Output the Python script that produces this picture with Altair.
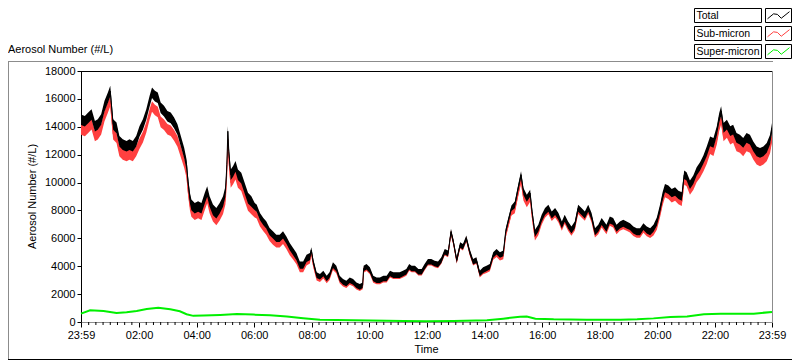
import json
import altair as alt
import pandas as pd

# ---------------- data ----------------
# minutes after 23:59 (start of record)
T = [
    0, 8, 15, 22, 29, 35, 42, 49, 56, 61,
    67, 74, 80, 87, 95, 101, 108, 115, 122, 129,
    136, 143, 148, 154, 160, 166, 173, 180, 187, 194,
    201, 208, 215, 220, 223, 227, 230, 237, 244, 251,
    258, 263, 268, 275, 282, 289, 296, 301, 304, 306,
    308, 312, 317, 322, 327, 334, 341, 348, 355, 362,
    366, 373, 380, 386, 393, 400, 407, 414, 421, 428,
    435, 442, 449, 456, 463, 470, 477, 480, 484, 491,
    498, 505, 512, 518, 525, 532, 539, 546, 553, 560,
    567, 574, 581, 587, 589, 595, 602, 609, 616, 623,
    630, 637, 644, 651, 657, 664, 671, 678, 684, 689,
    696, 703, 710, 716, 723, 730, 737, 744, 751, 758,
    765, 771, 776, 783, 790, 796, 803, 810, 817, 824,
    831, 838, 845, 852, 859, 866, 873, 880, 885, 890,
    897, 904, 911, 917, 922, 929, 936, 940, 946, 953,
    960, 967, 974, 981, 988, 995, 1002, 1008, 1015, 1022,
    1029, 1036, 1043, 1050, 1057, 1064, 1071, 1078, 1085, 1095,
    1102, 1109, 1116, 1123, 1130, 1137, 1144, 1151, 1158, 1165,
    1172, 1179, 1186, 1193, 1200, 1207, 1212, 1217, 1224, 1231,
    1238, 1245, 1252, 1257, 1262, 1269, 1276, 1283, 1290, 1297,
    1304, 1311, 1318, 1325, 1330, 1334, 1339, 1346, 1353, 1359,
    1366, 1373, 1380, 1387, 1394, 1401, 1408, 1415, 1422, 1429,
    1436, 1440]

TOTAL = [
    14500, 14400, 14640, 14880, 14040, 14160, 14520, 15480, 16080, 16560,
    14160, 13920, 12960, 12720, 12600, 12720, 12600, 12960, 13680, 14160,
    14880, 15840, 16440, 16200, 16080, 15360, 15120, 14760, 14640, 14280,
    13800, 12960, 12120, 11280, 10080, 8880, 8400, 8160, 8280, 8160,
    8880, 9360, 8640, 8040, 7800, 8160, 8640, 9360, 11280, 13680,
    12240, 10560, 10800, 11160, 10560, 10320, 9600, 8880, 8640, 8280,
    8160, 7560, 7200, 6960, 6480, 6240, 6000, 6000, 6240, 5880,
    5400, 5040, 4680, 4080, 4080, 4560, 4680, 5160, 4320, 3360,
    3240, 3480, 3120, 3360, 4080, 3840, 3120, 2880, 2760, 3000,
    2880, 2640, 2520, 2640, 3840, 3960, 3720, 3120, 3000, 3000,
    3120, 3120, 3480, 3360, 3360, 3360, 3480, 3600, 3960, 3840,
    3840, 3600, 3600, 3960, 4320, 4320, 4200, 4130, 4440, 5040,
    4920, 6480, 5760, 4440, 5520, 5400, 6000, 5040, 4320, 4440,
    3480, 3720, 3840, 3960, 4800, 5040, 4800, 4920, 6480, 7200,
    8160, 8400, 9600, 10560, 9360, 8880, 9240, 7920, 6360, 6720,
    7440, 7920, 8160, 7680, 7920, 7560, 6960, 7440, 6960, 6600,
    6960, 8160, 7920, 7680, 8160, 7560, 6480, 6720, 7200, 6720,
    7320, 7200, 6720, 6960, 7080, 6960, 6840, 6600, 6480, 6480,
    6840, 6600, 6480, 6720, 7200, 8160, 9000, 9600, 9480, 9240,
    9360, 9120, 9000, 10560, 10440, 9840, 10200, 10800, 11160, 11640,
    12240, 12960, 12840, 13680, 14640, 15120, 13920, 14160, 13680, 13800,
    13200, 13080, 12840, 13200, 13080, 12600, 12240, 12120, 12240, 12480,
    13080, 13920]

SUB = [
    13800, 13700, 13940, 14180, 13340, 13460, 13820, 14780, 15380, 15860,
    13460, 13220, 12260, 12020, 11900, 12020, 11900, 12260, 12800, 13260,
    13950, 14900, 15450, 15200, 15060, 14350, 14150, 13820, 13720, 13380,
    12950, 12200, 11450, 10700, 9500, 8400, 7920, 7700, 7820, 7700,
    8420, 8900, 8180, 7580, 7320, 7650, 8130, 8830, 10750, 13100,
    11700, 10000, 10250, 10600, 10000, 9770, 9050, 8350, 8110, 7750,
    7690, 7100, 6760, 6520, 6060, 5800, 5600, 5600, 5850, 5500,
    5050, 4740, 4400, 3820, 3830, 4320, 4450, 4950, 4120, 3180,
    3070, 3320, 2970, 3210, 3930, 3690, 2980, 2750, 2630, 2880,
    2760, 2530, 2420, 2540, 3740, 3860, 3620, 3020, 2910, 2910,
    3030, 3030, 3390, 3280, 3280, 3280, 3400, 3520, 3880, 3770,
    3770, 3530, 3530, 3890, 4250, 4250, 4130, 4060, 4370, 4970,
    4850, 6400, 5690, 4370, 5450, 5330, 5930, 4970, 4250, 4370,
    3400, 3620, 3720, 3840, 4660, 4870, 4610, 4700, 6240, 6900,
    7830, 8050, 9230, 10170, 8970, 8480, 8880, 7620, 6100, 6480,
    7230, 7720, 7970, 7500, 7740, 7380, 6790, 7270, 6790, 6430,
    6790, 7990, 7750, 7510, 7990, 7390, 6310, 6550, 7030, 6550,
    7150, 7030, 6550, 6790, 6910, 6790, 6670, 6420, 6290, 6290,
    6650, 6400, 6270, 6460, 6920, 7850, 8660, 9250, 9120, 8870,
    8990, 8740, 8620, 10160, 10030, 9420, 9760, 10330, 10650, 11100,
    11680, 12390, 12260, 13080, 14040, 14510, 13320, 13560, 13080, 13200,
    12600, 12480, 12240, 12600, 12480, 12000, 11640, 11520, 11640, 11880,
    12460, 13250]

SUPER_T = [0, 19, 47, 74, 95, 116, 137, 161, 186, 206,
           220, 234, 255, 290, 325, 359, 394, 429, 463, 498,
           533, 603, 672, 720, 776, 846, 880, 915, 929, 947,
           985, 1054, 1124, 1159, 1193, 1228, 1263, 1298, 1333, 1367,
           1402, 1440]
SUPER = [600, 840, 790, 650, 700, 790, 930, 1030, 910, 770,
         560, 440, 460, 510, 580, 530, 480, 390, 270, 170,
         150, 100, 80, 60, 70, 120, 240, 380, 400, 240,
         190, 170, 170, 190, 260, 360, 400, 550, 600, 600,
         600, 720]

# half-width of the noisy band (#/L), read per time segment (start minute)
NOISE_START = [0, 360, 480, 900, 1200, 1300]
NOISE_HALF = [380, 260, 200, 250, 300, 350]

X_TICKS = [0, 121, 241, 361, 481, 601, 721, 841, 961, 1081, 1201, 1321, 1440]
X_LABELS = ["23:59", "02:00", "04:00", "06:00", "08:00", "10:00", "12:00",
            "14:00", "16:00", "18:00", "20:00", "22:00", "23:59"]
Y_TICKS = [0, 2000, 4000, 6000, 8000, 10000, 12000, 14000, 16000, 18000]
MINOR = [1 + 15 * k for k in range(1, 96) if k % 8 != 0]

SERIES = ["Total", "Sub-micron", "Super-micron"]
TITLE = "Aerosol Number (#/L)"

# ---------------- styling ----------------
W, H = 691, 251
FONT = "Liberation Sans"
RED = "#ff4040"
GREEN = "#00f000"
GRAY = "#8c8c8c"
COLORS = ["#000000", RED, GREEN]

label_expr = "%s[indexof(%s, datum.value)]" % (json.dumps(X_LABELS), json.dumps(X_TICKS))

xs = alt.Scale(domain=[0, 1440], nice=False, zero=False)
ys = alt.Scale(domain=[0, 18000], nice=False, zero=True)
x_axis = alt.Axis(values=X_TICKS, labelExpr=label_expr, title=None, grid=False,
                  tickSize=5, tickColor="black", domainColor=GRAY, labelFont=FONT,
                  labelFontSize=11, labelColor="black", labelPadding=2,
                  labelFlush=False, labelOverlap=False, labelAngle=0)
y_axis = alt.Axis(values=Y_TICKS, format="d", title=None, grid=False, tickSize=4,
                  tickColor="black", domainColor="black", labelFont=FONT,
                  labelFontSize=11, labelColor="black", labelPadding=2,
                  labelOverlap=False)


def half_width(t):
    h = NOISE_HALF[0]
    for s, v in zip(NOISE_START, NOISE_HALF):
        if t >= s:
            h = v
    return h


df_main = pd.DataFrame({"t": T, "total": TOTAL, "sub": SUB})
df_main["hw"] = [half_width(t) for t in T]
df_sup = pd.DataFrame({"t": SUPER_T, "v": SUPER})
df_minor = pd.DataFrame({"t": MINOR})
one = pd.DataFrame({"a": [0]})

X = alt.X("t:Q", scale=xs, axis=x_axis)

sub_band = alt.Chart(df_main).transform_calculate(
    lo="datum.sub - datum.hw", hi="datum.sub + datum.hw").mark_area(color=RED, opacity=1).encode(
    x=X, y=alt.Y("lo:Q", scale=ys, axis=y_axis), y2="hi:Q")
sub_line = alt.Chart(df_main).mark_line(color=RED, strokeWidth=1).encode(
    x=X, y=alt.Y("sub:Q", scale=ys, axis=y_axis))
tot_band = alt.Chart(df_main).transform_calculate(
    lo="datum.total - datum.hw", hi="datum.total + datum.hw").mark_area(color="black", opacity=1).encode(
    x=X, y=alt.Y("lo:Q", scale=ys, axis=y_axis), y2="hi:Q")
tot_line = alt.Chart(df_main).mark_line(color="black", strokeWidth=1).encode(
    x=X, y=alt.Y("total:Q", scale=ys, axis=y_axis))
sup_line = alt.Chart(df_sup).mark_line(color=GREEN, strokeWidth=2).encode(
    x=X, y=alt.Y("v:Q", scale=ys, axis=y_axis))
minor_ticks = alt.Chart(df_minor).mark_rule(color="black", strokeWidth=1).encode(
    x=X, y=alt.value(H), y2=alt.value(H + 3))


def hline(x1, x2, y, color):
    return alt.Chart(one).mark_rule(color=color, strokeWidth=1).encode(
        x=alt.value(x1), x2=alt.value(x2), y=alt.value(y + 0.5))


def vline(x, y1, y2, color):
    return alt.Chart(one).mark_rule(color=color, strokeWidth=1).encode(
        x=alt.value(x + 0.5), y=alt.value(y1), y2=alt.value(y2))


def box(x1, x2, y1, y2):
    return alt.Chart(one).mark_rect(fill="white", stroke="black", strokeWidth=1).encode(
        x=alt.value(x1 + 0.5), x2=alt.value(x2 + 0.5), y=alt.value(y1 + 0.5), y2=alt.value(y2 + 0.5))


def text(s, x, y, align="left", angle=0, size=11):
    return alt.Chart(one).mark_text(text=s, align=align, baseline="middle", font=FONT,
                                    fontSize=size, color="black", angle=angle).encode(
        x=alt.value(x), y=alt.value(y))


decor = [
    hline(0, W, 0, "black"),          # plot top border
    vline(W, 0, H, GRAY),             # plot right border
    hline(-73, W + 1, -10, GRAY),     # outer frame top
    vline(-73, -10, 289, GRAY),       # outer frame left
    hline(-73, 711, 288, "black"),    # outer frame bottom
    text(TITLE, -73, -21),
    text(TITLE, -48.5, 125.5, align="center", angle=270),
    text("Time", 345.5, 279, align="center"),
]

ICON = "M -1 0.3 L -0.45 -0.15 L -0.1 -0.1 L 0.25 0.25 L 1 -0.35"
legend_tops = [-63, -45, -27]
for name, col, top in zip(SERIES, COLORS, legend_tops):
    decor.append(box(613, 680, top, top + 14))
    decor.append(box(684, 710, top, top + 14))
    decor.append(text(name, 615.5, top + 7.5, size=10.5))
    decor.append(alt.Chart(one).mark_point(shape=ICON, filled=False, stroke=col, strokeWidth=1,
                                           opacity=1, size=22 * 22).encode(
        x=alt.value(697.5), y=alt.value(top + 7.5)))

chart = alt.layer(sub_band, sub_line, tot_band, tot_line, sup_line, minor_ticks, *decor).properties(
    width=W, height=H,
    padding={"left": 73, "top": 63, "right": 20, "bottom": 39},
    autosize=alt.AutoSizeParams(type="none"),
    background="white",
).configure_view(stroke=None)

chart.save("out.html", embed_options={"renderer": "svg", "actions": False})
